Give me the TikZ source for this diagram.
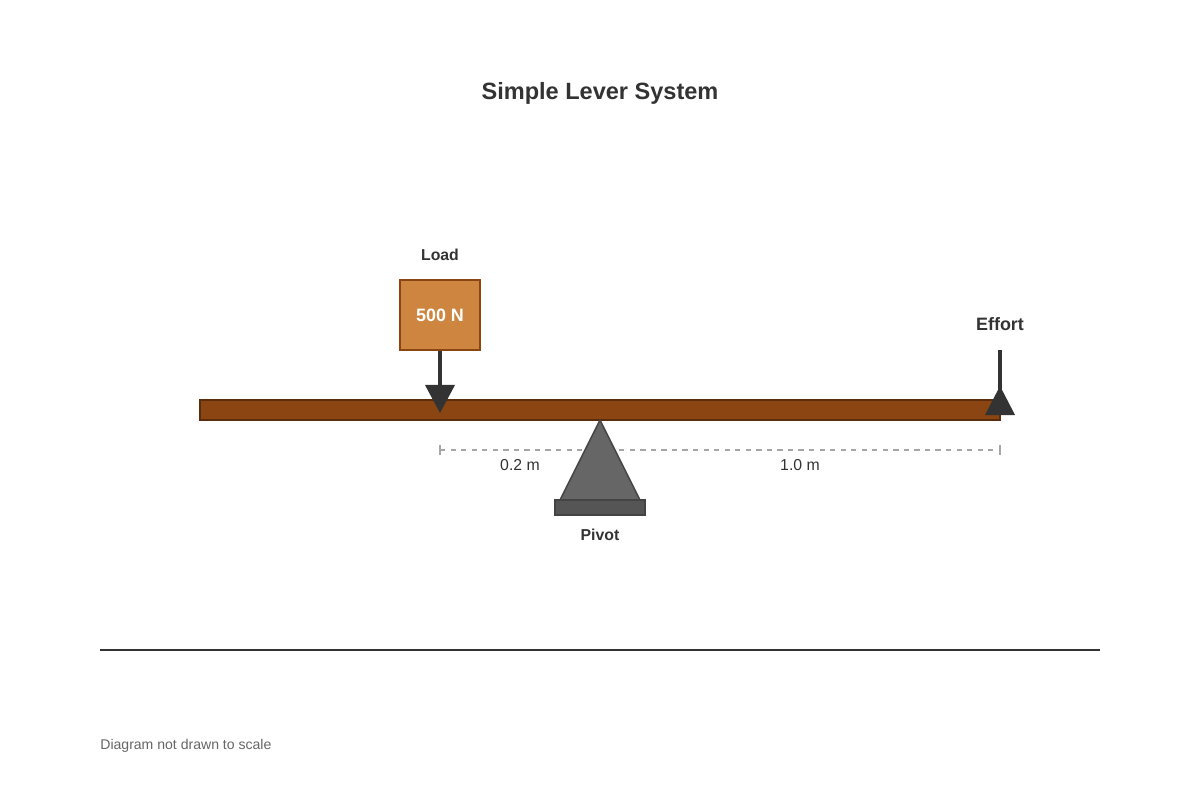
\documentclass[tikz,border=0pt]{standalone}
\usepackage{fontspec}
\setmainfont{Liberation Sans}
\begin{document}
\begin{tikzpicture}[x=0.02cm,y=-0.02cm,
  lbl/.style={text=black!80, font=\fontsize{9}{10}\selectfont},
  blbl/.style={lbl, font=\bfseries\fontsize{9}{10}\selectfont}]
\useasboundingbox (0,0) rectangle (1200,800);
\definecolor{dk}{HTML}{333333}
\node[text=dk, font=\bfseries\fontsize{13.4}{16}\selectfont] (title) at (600,93) {Simple Lever System};
% beam
\draw[fill={rgb,255:red,139;green,69;blue,19}, draw={rgb,255:red,92;green,45;blue,12}, line width=0.8pt] (200,400) rectangle (1000,420);
% dimension line
\draw[gray!70, dashed, line width=0.6pt] (440,450) -- (1000,450);
\draw[gray!70, line width=0.6pt] (440,445) -- (440,455) (1000,445) -- (1000,455);
\node[lbl] (d1) at (520,465) {0.2 m};
\node[lbl] (d2) at (800,465) {1.0 m};
% pivot
\draw[fill={rgb,255:red,102;green,102;blue,102}, draw={rgb,255:red,68;green,68;blue,68}, line width=0.8pt] (600,420) -- (640,500) -- (560,500) -- cycle;
\draw[fill={rgb,255:red,85;green,85;blue,85}, draw={rgb,255:red,68;green,68;blue,68}, line width=0.8pt] (555,500) rectangle (645,515);
\node[blbl, text=dk] (pivot) at (600,535) {Pivot};
% load
\node[draw={rgb,255:red,139;green,69;blue,19}, fill={rgb,255:red,205;green,133;blue,63}, line width=0.9pt, minimum width=80*0.02cm, minimum height=70*0.02cm, text=white, font=\bfseries\fontsize{10.2}{12}\selectfont, inner sep=0] (load) at (440,315) {500 N};
\node[blbl, text=dk] (loadl) at (440,255) {Load};
\draw[dk, line width=1.8pt] (load.south) -- (440,390);
\fill[dk] (425,385) -- (455,385) -- (440,413) -- cycle;
% effort
\node[text=dk, font=\bfseries\fontsize{10.2}{12}\selectfont] (eff) at (1000,324) {Effort};
\draw[dk, line width=1.8pt] (1000,350) -- (1000,390);
\fill[dk] (985,415) -- (1015,415) -- (1000,386) -- cycle;
% base line
\draw[dk, line width=1.2pt] (100,650) -- (1100,650);
\node[anchor=west, text=black!60, font=\fontsize{8}{10}\selectfont, inner sep=0] (note) at (100,746) {Diagram not drawn to scale};
\end{tikzpicture}
\end{document}
